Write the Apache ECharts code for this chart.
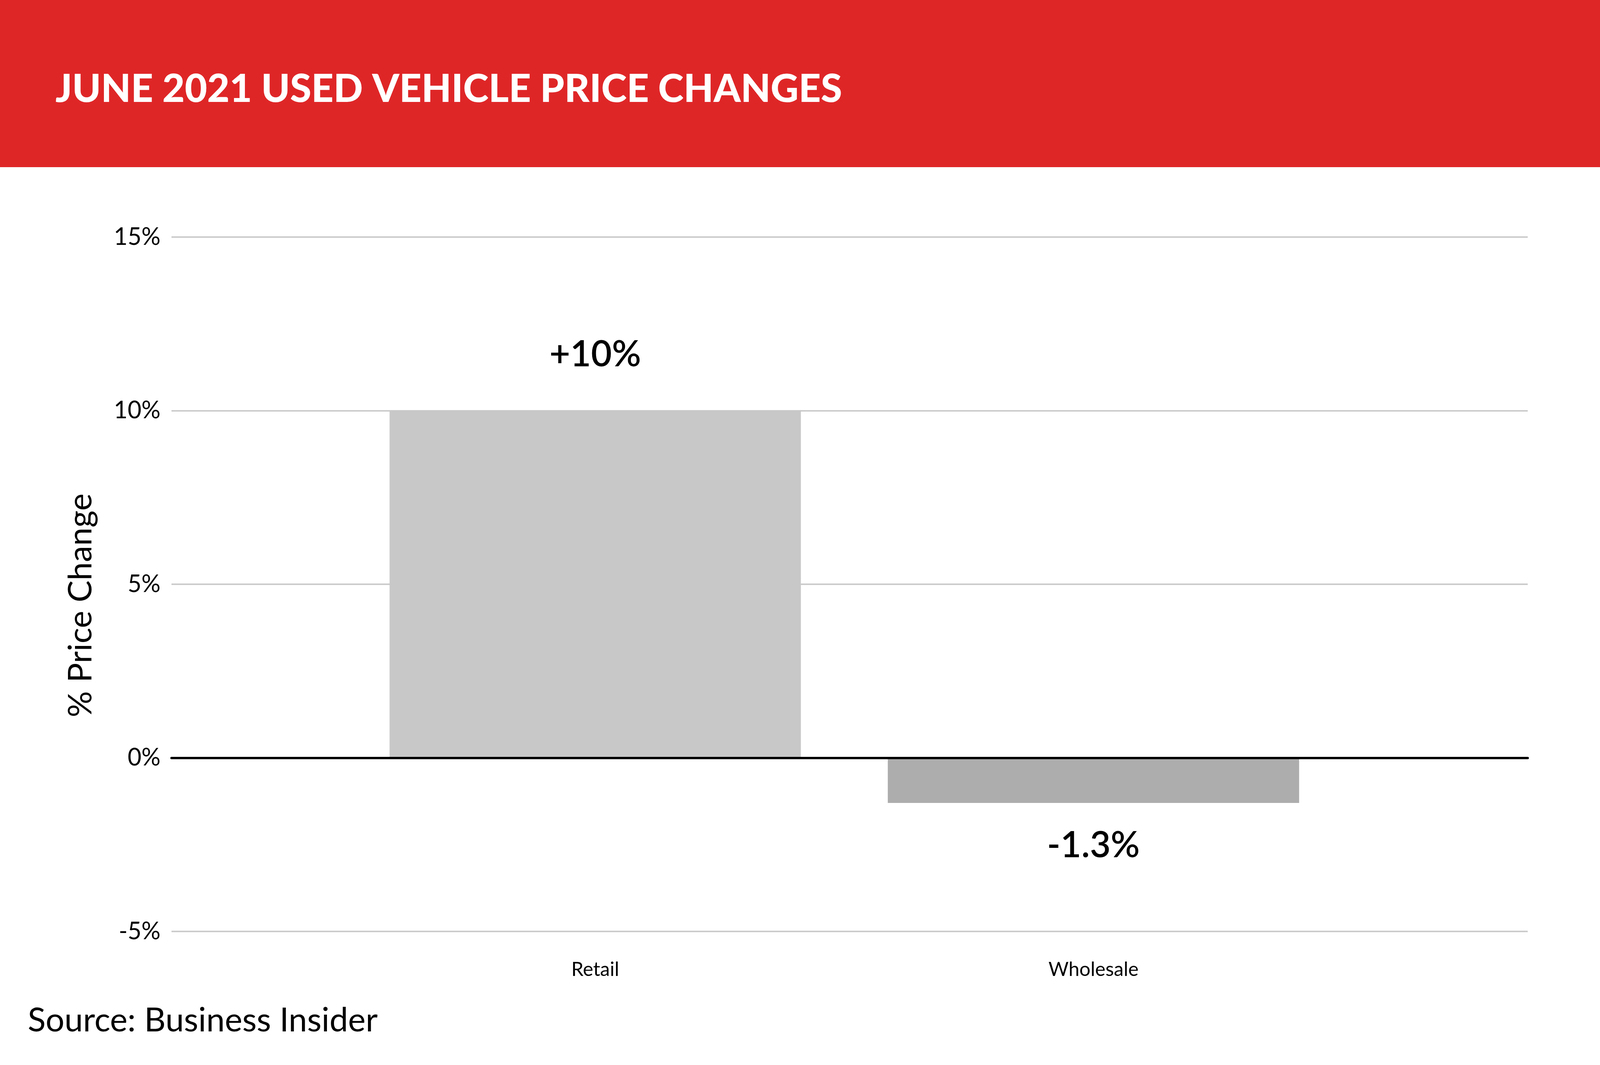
<!DOCTYPE html>
<html>
<head>
<meta charset="utf-8">
<title>June 2021 Used Vehicle Price Changes</title>
<script src="https://cdn.jsdelivr.net/npm/echarts@6/dist/echarts.min.js"></script>
<style>
  html, body { margin: 0; padding: 0; background: #ffffff; overflow: hidden; }
  #chart { width: 100vw; height: 100vh; }
</style>
</head>
<body>
<div id="chart"></div>
<script>
// ---------------------- data ----------------------
var categories = ['Retail', 'Wholesale'];
var priceChange = [10, -1.3];
var valueLabels = ['+10%', '-1.3%'];
var barColors = ['#c8c8c8', '#adadad'];
var yTicks = { min: -5, max: 15, step: 5 };

var titleText = 'JUNE 2021 USED VEHICLE PRICE CHANGES';
var sourceText = 'Source: Business Insider';
var yName = '% Price Change';

// ---------------------- chart ----------------------
// layout is measured on a 5000 x 2727 canvas, then scaled to the real box
var FONT = 'Lato, "Noto Sans", sans-serif';
var el = document.getElementById('chart');
var myChart = echarts.init(el);

var W = el.clientWidth || 5000;
var H = el.clientHeight || 2727;
var sx = W / 5000, sy = H / 2727, sf = Math.min(sx, sy);
var X = function (v) { return Math.round(v * sx); };
var Y = function (v) { return Math.round(v * sy); };
var F = function (v) { return Math.round(v * sf); };

var barData = priceChange.map(function (v, i) {
  return {
    value: v,
    itemStyle: { color: barColors[i] },
    label: {
      position: v >= 0 ? 'top' : 'bottom',
      distance: v >= 0 ? Y(97) : Y(63),
      formatter: valueLabels[i]
    }
  };
});

var option = {
  backgroundColor: '#ffffff',
  animation: false,
  textStyle: { fontFamily: FONT },
  grid: [
    // full-width grid: gridlines, y labels, zero line
    { left: X(536), right: X(226), top: Y(607), bottom: Y(342) },
    // narrower grid that holds the bars
    { left: X(1082), right: X(805), top: Y(607), bottom: Y(342) }
  ],
  xAxis: [
    {
      gridIndex: 0,
      type: 'category',
      data: [''],
      z: 10,
      axisLine: { show: true, onZero: true, lineStyle: { color: '#000000', width: Math.max(2, Y(6)) } },
      axisTick: { show: false },
      axisLabel: { show: false },
      splitLine: { show: false }
    },
    {
      gridIndex: 1,
      type: 'category',
      data: categories,
      position: 'bottom',
      axisLine: { show: false, onZero: false },
      axisTick: { show: false },
      axisLabel: { fontSize: F(61), color: '#000000', margin: Y(73), fontFamily: FONT }
    }
  ],
  yAxis: [
    {
      gridIndex: 0,
      type: 'value',
      min: yTicks.min,
      max: yTicks.max,
      interval: yTicks.step,
      axisLine: { show: false },
      axisTick: { show: false },
      axisLabel: {
        formatter: '{value}%',
        fontSize: F(75),
        color: '#000000',
        margin: X(34),
        fontFamily: FONT
      },
      splitLine: { lineStyle: { color: '#cccccc', width: Math.max(1, Y(4)) } }
    },
    {
      gridIndex: 1,
      type: 'value',
      min: yTicks.min,
      max: yTicks.max,
      interval: yTicks.step,
      show: false,
      splitLine: { show: false }
    }
  ],
  series: [
    {
      type: 'bar',
      xAxisIndex: 1,
      yAxisIndex: 1,
      barWidth: X(1285),
      data: barData,
      label: {
        show: true,
        fontSize: F(112),
        lineHeight: F(112),
        fontWeight: 600,
        color: '#000000',
        fontFamily: FONT
      }
    }
  ],
  graphic: [
    {
      type: 'rect',
      left: 0,
      top: 0,
      z: 0,
      shape: { width: W, height: Y(428) },
      style: { fill: '#df2627' }
    },
    {
      type: 'text',
      x: X(173),
      y: Y(229),
      z: 1,
      style: {
        text: titleText,
        fill: '#ffffff',
        font: '900 ' + F(121) + 'px ' + FONT,
        textAlign: 'left',
        textVerticalAlign: 'middle'
      }
    },
    {
      type: 'text',
      x: X(253),
      y: Y(1550),
      rotation: Math.PI / 2,
      style: {
        text: yName,
        fill: '#000000',
        font: '400 ' + Math.round(84 * sy) + 'px ' + FONT,
        textAlign: 'center',
        textVerticalAlign: 'middle'
      }
    },
    {
      type: 'text',
      x: X(87),
      y: Y(2614),
      style: {
        text: sourceText,
        fill: '#000000',
        font: '400 ' + F(104) + 'px ' + FONT,
        textAlign: 'left',
        textVerticalAlign: 'middle'
      }
    }
  ]
};

myChart.setOption(option);
</script>
</body>
</html>
